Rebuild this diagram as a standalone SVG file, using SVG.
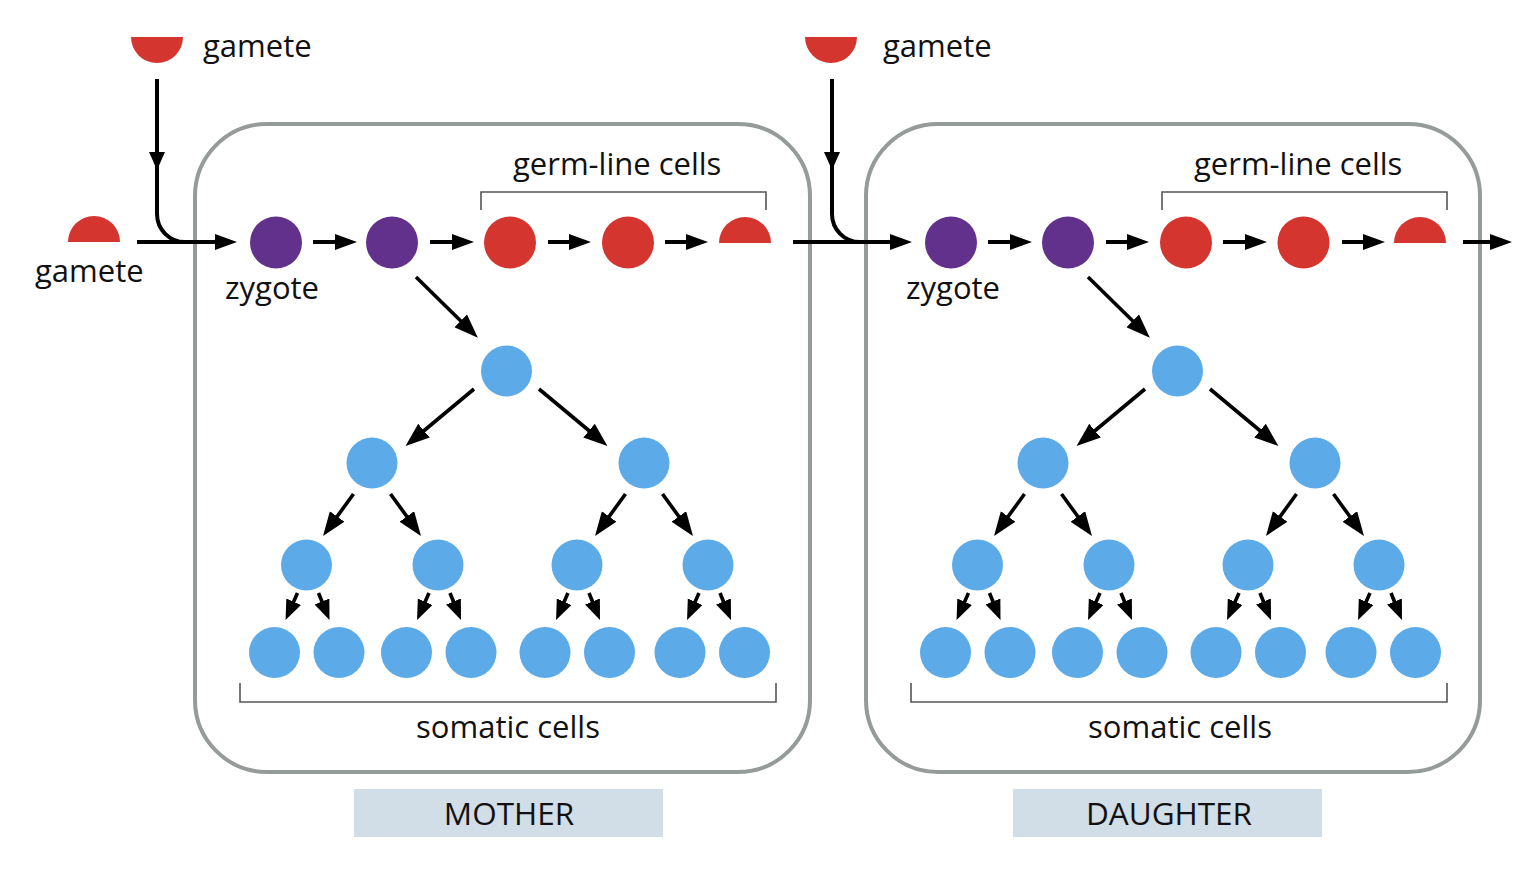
<svg xmlns="http://www.w3.org/2000/svg" width="1530" height="870" viewBox="0 0 1530 870">
<style>
  .box{fill:none;stroke:#959b99;stroke-width:4}
  .red{fill:#d5352f}
  .pur{fill:#62318b}
  .blu{fill:#5caae8}
  .t{font-family:"Open Sans","Noto Sans",sans-serif;font-size:31px;fill:#111}
  .lab{font-family:"Open Sans","Noto Sans",sans-serif;font-size:31.5px;fill:#111;text-anchor:middle}
  .brk{fill:none;stroke:#555;stroke-width:1.6}
  .ln{fill:none;stroke:#000;stroke-width:4}
  .tl{fill:none;stroke:#000;stroke-width:3.6}
  .mid{fill:#000}
  .tag{fill:#d1dde7}
</style>
<defs>
  <marker id="ah" markerUnits="userSpaceOnUse" markerWidth="24" markerHeight="18" refX="12" refY="8" orient="auto">
    <path d="M0,0 L22,8 L0,16 Z" fill="#000"/>
  </marker>
  <marker id="aht" markerUnits="userSpaceOnUse" markerWidth="26" markerHeight="20" refX="13" refY="9" orient="auto">
    <path d="M0,0 L24,9 L0,18 Z" fill="#000"/>
  </marker>
  <marker id="ahs" markerUnits="userSpaceOnUse" markerWidth="22" markerHeight="18" refX="11" refY="8" orient="auto">
    <path d="M0,0 L20,8 L0,16 Z" fill="#000"/>
  </marker>
</defs>

<rect fill="#fff" x="0" y="0" width="1530" height="870"/>

<!-- boxes -->
<g id="mother-box">
  <rect class="box" x="195" y="124" width="615" height="648" rx="72"/>
  <rect class="tag" x="354" y="789" width="309" height="48"/>
  <text class="lab" x="509" y="825">MOTHER</text>
</g>
<g id="daughter-box">
  <rect class="box" x="866" y="124" width="614" height="648" rx="72"/>
  <rect class="tag" x="1013" y="789" width="309" height="48"/>
  <text class="lab" x="1169" y="825">DAUGHTER</text>
</g>

<!-- connectors -->
<g id="connectors">
  <!-- mother entry -->
  <path class="ln" d="M157,79 V214 A28,28 0 0 0 185,242 H205"/>
  <polygon class="mid" points="149,152 165,152 157,170"/>
  <line class="ln" x1="137" y1="242" x2="227" y2="242" marker-end="url(#ah)"/>
  <line class="ln" x1="313" y1="242" x2="347" y2="242" marker-end="url(#ah)"/>
  <line class="ln" x1="430" y1="242" x2="464" y2="242" marker-end="url(#ah)"/>
  <line class="ln" x1="548" y1="242" x2="581" y2="242" marker-end="url(#ah)"/>
  <line class="ln" x1="665" y1="242" x2="698" y2="242" marker-end="url(#ah)"/>
  <!-- into daughter -->
  <path class="ln" d="M832,79 V214 A28,28 0 0 0 860,242 H880"/>
  <polygon class="mid" points="824,152 840,152 832,170"/>
  <line class="ln" x1="793" y1="242" x2="902" y2="242" marker-end="url(#ah)"/>
  <line class="ln" x1="988" y1="242" x2="1022" y2="242" marker-end="url(#ah)"/>
  <line class="ln" x1="1106" y1="242" x2="1139" y2="242" marker-end="url(#ah)"/>
  <line class="ln" x1="1223" y1="242" x2="1257" y2="242" marker-end="url(#ah)"/>
  <line class="ln" x1="1342" y1="242" x2="1375" y2="242" marker-end="url(#ah)"/>
  <line class="ln" x1="1463" y1="242" x2="1502" y2="242" marker-end="url(#ah)"/>

  <!-- mother tree -->
  <line class="tl" x1="416" y1="277" x2="470" y2="330" marker-end="url(#aht)"/>
  <line class="tl" x1="474" y1="389" x2="414" y2="439" marker-end="url(#aht)"/>
  <line class="tl" x1="539" y1="389" x2="599" y2="439" marker-end="url(#aht)"/>
  <line class="tl" x1="353.5" y1="494" x2="329.5" y2="527" marker-end="url(#aht)"/>
  <line class="tl" x1="390.5" y1="494" x2="414.5" y2="527" marker-end="url(#aht)"/>
  <line class="tl" x1="625.5" y1="494" x2="601.5" y2="527" marker-end="url(#aht)"/>
  <line class="tl" x1="662.5" y1="494" x2="686.5" y2="527" marker-end="url(#aht)"/>
  <line class="tl" x1="297.5" y1="593" x2="289.2" y2="611.8" marker-end="url(#ahs)"/>
  <line class="tl" x1="318.5" y1="593" x2="326.1" y2="611.7" marker-end="url(#ahs)"/>
  <line class="tl" x1="429" y1="593" x2="420.7" y2="611.8" marker-end="url(#ahs)"/>
  <line class="tl" x1="450" y1="593" x2="457.6" y2="611.7" marker-end="url(#ahs)"/>
  <line class="tl" x1="568" y1="593" x2="559.7" y2="611.8" marker-end="url(#ahs)"/>
  <line class="tl" x1="589" y1="593" x2="596.6" y2="611.7" marker-end="url(#ahs)"/>
  <line class="tl" x1="699" y1="593" x2="690.7" y2="611.8" marker-end="url(#ahs)"/>
  <line class="tl" x1="720" y1="593" x2="727.6" y2="611.7" marker-end="url(#ahs)"/>

  <!-- daughter tree -->
  <line class="tl" x1="1088" y1="277" x2="1142" y2="330" marker-end="url(#aht)"/>
  <line class="tl" x1="1145" y1="389" x2="1085" y2="439" marker-end="url(#aht)"/>
  <line class="tl" x1="1210" y1="389" x2="1270" y2="439" marker-end="url(#aht)"/>
  <line class="tl" x1="1024.5" y1="494" x2="1000.5" y2="527" marker-end="url(#aht)"/>
  <line class="tl" x1="1061.5" y1="494" x2="1085.5" y2="527" marker-end="url(#aht)"/>
  <line class="tl" x1="1296.5" y1="494" x2="1272.5" y2="527" marker-end="url(#aht)"/>
  <line class="tl" x1="1333.5" y1="494" x2="1357.5" y2="527" marker-end="url(#aht)"/>
  <line class="tl" x1="968.5" y1="593" x2="960.2" y2="611.8" marker-end="url(#ahs)"/>
  <line class="tl" x1="989.5" y1="593" x2="997.1" y2="611.7" marker-end="url(#ahs)"/>
  <line class="tl" x1="1100" y1="593" x2="1091.7" y2="611.8" marker-end="url(#ahs)"/>
  <line class="tl" x1="1121" y1="593" x2="1128.6" y2="611.7" marker-end="url(#ahs)"/>
  <line class="tl" x1="1239" y1="593" x2="1230.7" y2="611.8" marker-end="url(#ahs)"/>
  <line class="tl" x1="1260" y1="593" x2="1267.6" y2="611.7" marker-end="url(#ahs)"/>
  <line class="tl" x1="1370" y1="593" x2="1361.7" y2="611.8" marker-end="url(#ahs)"/>
  <line class="tl" x1="1391" y1="593" x2="1398.6" y2="611.7" marker-end="url(#ahs)"/>
</g>

<!-- gametes -->
<g id="gamete-top-mother">
  <path class="red" d="M131,37 A26,26 0 0 0 183,37 Z"/>
  <text class="t" x="203" y="57">gamete</text>
</g>
<g id="gamete-left">
  <path class="red" d="M68,242 A26,26 0 0 1 120,242 Z"/>
  <text class="t" x="35" y="282">gamete</text>
</g>
<g id="gamete-top-daughter">
  <path class="red" d="M805,37 A26,26 0 0 0 857,37 Z"/>
  <text class="t" x="883" y="57">gamete</text>
</g>

<!-- mother germ line -->
<g id="m-zygote">
  <circle class="pur" cx="276" cy="242.5" r="26"/>
  <text class="t" x="225" y="299">zygote</text>
</g>
<g id="m-p2"><circle class="pur" cx="392" cy="242.5" r="26"/></g>
<g id="m-germ">
  <circle class="red" cx="510" cy="242.5" r="26"/>
  <circle class="red" cx="628" cy="242.5" r="26"/>
  <path class="red" d="M719,243 A26,26 0 0 1 771,243 Z"/>
  <path class="brk" d="M481,210 V192 H766 V210"/>
  <text class="t" x="513" y="175">germ-line cells</text>
</g>

<!-- mother somatic tree -->
<g id="m-somatic">
  <circle class="blu" cx="506.5" cy="371" r="25.5"/>
  <circle class="blu" cx="372" cy="463" r="25.5"/>
  <circle class="blu" cx="644" cy="463" r="25.5"/>
  <circle class="blu" cx="306.5" cy="565" r="25.5"/>
  <circle class="blu" cx="438" cy="565" r="25.5"/>
  <circle class="blu" cx="577" cy="565" r="25.5"/>
  <circle class="blu" cx="708" cy="565" r="25.5"/>
  <circle class="blu" cx="274.5" cy="652.5" r="25.5"/>
  <circle class="blu" cx="339" cy="652.5" r="25.5"/>
  <circle class="blu" cx="406.5" cy="652.5" r="25.5"/>
  <circle class="blu" cx="471" cy="652.5" r="25.5"/>
  <circle class="blu" cx="545" cy="652.5" r="25.5"/>
  <circle class="blu" cx="609.5" cy="652.5" r="25.5"/>
  <circle class="blu" cx="680" cy="652.5" r="25.5"/>
  <circle class="blu" cx="744.5" cy="652.5" r="25.5"/>
  <path class="brk" d="M240,683 V702 H776 V683"/>
  <text class="lab" x="508" y="738" style="font-size:31px">somatic cells</text>
</g>

<!-- daughter germ line -->
<g id="d-zygote">
  <circle class="pur" cx="951" cy="242.5" r="26"/>
  <text class="t" x="906" y="299">zygote</text>
</g>
<g id="d-p2"><circle class="pur" cx="1068" cy="242.5" r="26"/></g>
<g id="d-germ">
  <circle class="red" cx="1186" cy="242.5" r="26"/>
  <circle class="red" cx="1303.5" cy="242.5" r="26"/>
  <path class="red" d="M1394,243 A26,26 0 0 1 1446,243 Z"/>
  <path class="brk" d="M1162,210 V192 H1447 V210"/>
  <text class="t" x="1194" y="175">germ-line cells</text>
</g>

<!-- daughter somatic tree -->
<g id="d-somatic">
  <circle class="blu" cx="1177.5" cy="371" r="25.5"/>
  <circle class="blu" cx="1043" cy="463" r="25.5"/>
  <circle class="blu" cx="1315" cy="463" r="25.5"/>
  <circle class="blu" cx="977.5" cy="565" r="25.5"/>
  <circle class="blu" cx="1109" cy="565" r="25.5"/>
  <circle class="blu" cx="1248" cy="565" r="25.5"/>
  <circle class="blu" cx="1379" cy="565" r="25.5"/>
  <circle class="blu" cx="945.5" cy="652.5" r="25.5"/>
  <circle class="blu" cx="1010" cy="652.5" r="25.5"/>
  <circle class="blu" cx="1077.5" cy="652.5" r="25.5"/>
  <circle class="blu" cx="1142" cy="652.5" r="25.5"/>
  <circle class="blu" cx="1216" cy="652.5" r="25.5"/>
  <circle class="blu" cx="1280.5" cy="652.5" r="25.5"/>
  <circle class="blu" cx="1351" cy="652.5" r="25.5"/>
  <circle class="blu" cx="1415.5" cy="652.5" r="25.5"/>
  <path class="brk" d="M911,683 V702 H1447 V683"/>
  <text class="lab" x="1180" y="738" style="font-size:31px">somatic cells</text>
</g>
</svg>
